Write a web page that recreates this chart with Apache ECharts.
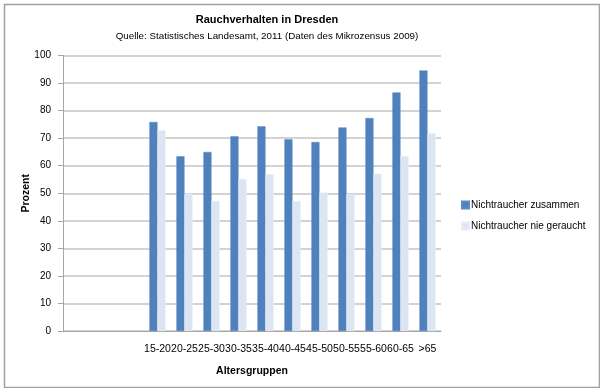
<!DOCTYPE html>
<html><head><meta charset="utf-8">
<script src="https://cdn.jsdelivr.net/npm/echarts@6/dist/echarts.min.js"></script>
<style>html,body{margin:0;padding:0;background:#fff}#c{width:600px;height:388px}</style>
</head><body><div id="c"></div>
<script>
const categories = ['', '', '', '15-20', '20-25', '25-30', '30-35', '35-40', '40-45', '45-50', '50-55', '55-60', '60-65', '>65'];
const nichtraucherZusammen = [null, null, null, 75.9, 63.4, 65.0, 70.7, 74.3, 69.6, 68.6, 73.9, 77.3, 86.6, 94.6];
const nichtraucherNieGeraucht = [null, null, null, 72.8, 49.8, 47.2, 55.2, 56.9, 47.2, 50.3, 49.7, 57.1, 63.5, 71.8];
const yTicks = [0, 10, 20, 30, 40, 50, 60, 70, 80, 90, 100];

const chart = echarts.init(document.getElementById('c'), null, {renderer: 'canvas'});
const font = '"Liberation Sans", Arial, sans-serif';
chart.setOption({
  animation: false,
  title: {
    text: 'Rauchverhalten in Dresden',
    subtext: 'Quelle: Statistisches Landesamt, 2011 (Daten des Mikrozensus 2009)',
    left: 262, top: 9, textAlign: 'center', itemGap: 6,
    textStyle: {fontFamily: font, fontSize: 11, fontWeight: 'bold', color: '#000'},
    subtextStyle: {fontFamily: font, fontSize: 9.8, color: '#000'}
  },
  legend: {
    orient: 'vertical', left: 456, top: 195, itemWidth: 7, itemHeight: 7, itemGap: 11,
    icon: 'rect',
    textStyle: {fontFamily: font, fontSize: 10, color: '#000', padding: [0, 0, 0, -3]},
    data: ['Nichtraucher zusammen', 'Nichtraucher nie geraucht']
  },
  grid: {left: 63, right: 159, top: 55.5, bottom: 57},
  xAxis: {
    type: 'category', data: categories,
    name: 'Altersgruppen', nameLocation: 'middle', nameGap: 35, nameMoveOverlap: false,
    nameTextStyle: {fontFamily: font, fontSize: 10.5, fontWeight: 'bold', color: '#000'},
    axisLine: {lineStyle: {color: '#a6a6a6', width: 1}},
    axisTick: {show: false},
    axisLabel: {fontFamily: font, fontSize: 10.5, color: '#000', interval: 0, margin: 13}
  },
  yAxis: {
    type: 'value', min: yTicks[0], max: yTicks[yTicks.length - 1], interval: 10,
    name: 'Prozent', nameLocation: 'middle', nameGap: 31, nameRotate: 90, nameMoveOverlap: false,
    nameTextStyle: {fontFamily: font, fontSize: 10.5, fontWeight: 'bold', color: '#000'},
    axisLine: {show: true, lineStyle: {color: '#a6a6a6', width: 1}},
    axisTick: {show: true, length: 5, lineStyle: {color: '#a6a6a6'}},
    axisLabel: {fontFamily: font, fontSize: 10, color: '#000', margin: 12},
    splitLine: {lineStyle: {color: '#c4c4c4', width: 1.5}}
  },
  series: [
    {name: 'Nichtraucher zusammen', type: 'bar', data: nichtraucherZusammen,
     barGap: '0%', barCategoryGap: '40%',
     itemStyle: {color: '#4F81BD', borderColor: '#5B8BC6', borderWidth: 0.5}},
    {name: 'Nichtraucher nie geraucht', type: 'bar', data: nichtraucherNieGeraucht,
     barGap: '0%', barCategoryGap: '40%',
     itemStyle: {color: '#DCE6F2', borderColor: '#E6EDF6', borderWidth: 0.5}}
  ],
  graphic: [{
    type: 'rect', left: 2, top: 2, silent: true,
    shape: {width: 595, height: 383},
    style: {fill: 'none', stroke: '#a0a0a0', lineWidth: 1.5}
  }]
});
</script></body></html>
